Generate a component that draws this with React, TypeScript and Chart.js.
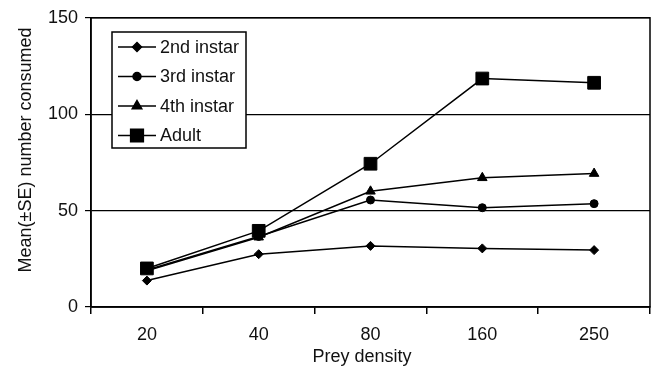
import React, { useEffect, useRef } from "react";
import { Chart, registerables } from "chart.js";
import { drawPoint } from "chart.js/helpers";

Chart.register(...registerables);

const categories = ["20", "40", "80", "160", "250"];
const seriesNames = ["2nd instar", "3rd instar", "4th instar", "Adult"];
const secondInstar = [13.7, 27.4, 31.7, 30.4, 29.5];
const thirdInstar = [19.2, 36.6, 55.5, 51.5, 53.6];
const fourthInstar = [18.8, 36.2, 60.0, 67.0, 69.2];
const adult = [20.0, 39.5, 74.3, 118.5, 116.3];
const yTicks = [0, 50, 100, 150];
const xTitle = "Prey density";
const yTitle = "Mean(±SE) number consumed";

const FONT = "'Liberation Sans', Arial, Helvetica, sans-serif";
const INK = "#111";
const FS = 18;

const pointStyles = ["rectRot", "circle", "triangle", "rect"];
const pointRadii = [4.5, 4, 5.5, 9];

const decorPlugin = {
  id: "decor",
  afterDraw(chart: any) {
    const ctx = chart.ctx;
    const { left, top, right, bottom } = chart.chartArea;
    ctx.save();
    // plot frame
    ctx.strokeStyle = "#000";
    ctx.lineWidth = 1.5;
    ctx.strokeRect(left, top, right - left, bottom - top);
    // axis titles
    ctx.fillStyle = INK;
    ctx.font = `${FS}px ${FONT}`;
    ctx.textAlign = "center";
    ctx.textBaseline = "middle";
    ctx.fillText(xTitle, 362, 357);
    ctx.save();
    ctx.translate(26, 150);
    ctx.rotate(-Math.PI / 2);
    ctx.fillText(yTitle, 0, 0);
    ctx.restore();
    // legend box
    const bx = 112, by = 32, bw = 134, bh = 116;
    ctx.fillStyle = "#fff";
    ctx.fillRect(bx, by, bw, bh);
    ctx.strokeRect(bx, by, bw, bh);
    chart.data.datasets.forEach((ds: any, i: number) => {
      const y = 47 + i * 29.5;
      ctx.strokeStyle = "#000";
      ctx.lineWidth = 1.5;
      ctx.beginPath();
      ctx.moveTo(118, y);
      ctx.lineTo(156, y);
      ctx.stroke();
      ctx.fillStyle = "#000";
      drawPoint(ctx, { pointStyle: ds.pointStyle, radius: ds.pointRadius, borderWidth: 1, rotation: 0 } as any, 137, y);
      ctx.fillStyle = INK;
      ctx.font = `${FS}px ${FONT}`;
      ctx.textBaseline = "middle";
      ctx.textAlign = "left";
      ctx.fillText(ds.label, 160, y + 1);
    });
    ctx.restore();
  },
};

export default function App() {
  const canvasRef = useRef<HTMLCanvasElement | null>(null);

  useEffect(() => {
    document.body.style.margin = "0";
    const series = [secondInstar, thirdInstar, fourthInstar, adult];
    const chart = new Chart(canvasRef.current as HTMLCanvasElement, {
      type: "line",
      data: {
        labels: categories,
        datasets: series.map((data, i) => ({
          label: seriesNames[i],
          data,
          borderColor: "#000",
          backgroundColor: "#000",
          borderWidth: 1.5,
          pointStyle: pointStyles[i] as any,
          pointRadius: pointRadii[i],
          pointBorderWidth: 1,
          pointBackgroundColor: "#000",
          pointBorderColor: "#000",
          tension: 0,
        })),
      },
      options: {
        responsive: false,
        animation: false,
        events: [],
        layout: { autoPadding: false, padding: { top: 17, right: 2, left: 0, bottom: 0 } },
        plugins: { legend: { display: false }, tooltip: { enabled: false } },
        scales: {
          x: {
            type: "category",
            offset: true,
            border: { display: true, color: "#000", width: 1.5 },
            grid: {
              offset: true,
              drawOnChartArea: false,
              drawTicks: true,
              tickLength: 7,
              color: "#000",
              lineWidth: 1.5,
            },
            ticks: { color: INK, font: { family: FONT, size: FS }, padding: 10, maxRotation: 0 },
            afterFit: (scale: any) => {
              scale.height = 64;
              scale.paddingLeft = 0;
              scale.paddingRight = 0;
            },
          },
          y: {
            min: 0,
            max: 150,
            border: { display: true, color: "#000", width: 1.5 },
            grid: { color: "#000", lineWidth: 1.2, tickLength: 6 },
            afterBuildTicks: (scale: any) => {
              scale.ticks = yTicks.map((v) => ({ value: v }));
            },
            ticks: { color: INK, font: { family: FONT, size: FS }, padding: 7 },
            afterFit: (scale: any) => {
              scale.width = 91;
            },
          },
        },
      },
      plugins: [decorPlugin],
    });
    return () => chart.destroy();
  }, []);

  return (
    <div style={{ position: "fixed", left: 0, top: 0, width: 652, height: 371, background: "#fff" }}>
      <canvas ref={canvasRef} width={652} height={371} />
    </div>
  );
}
